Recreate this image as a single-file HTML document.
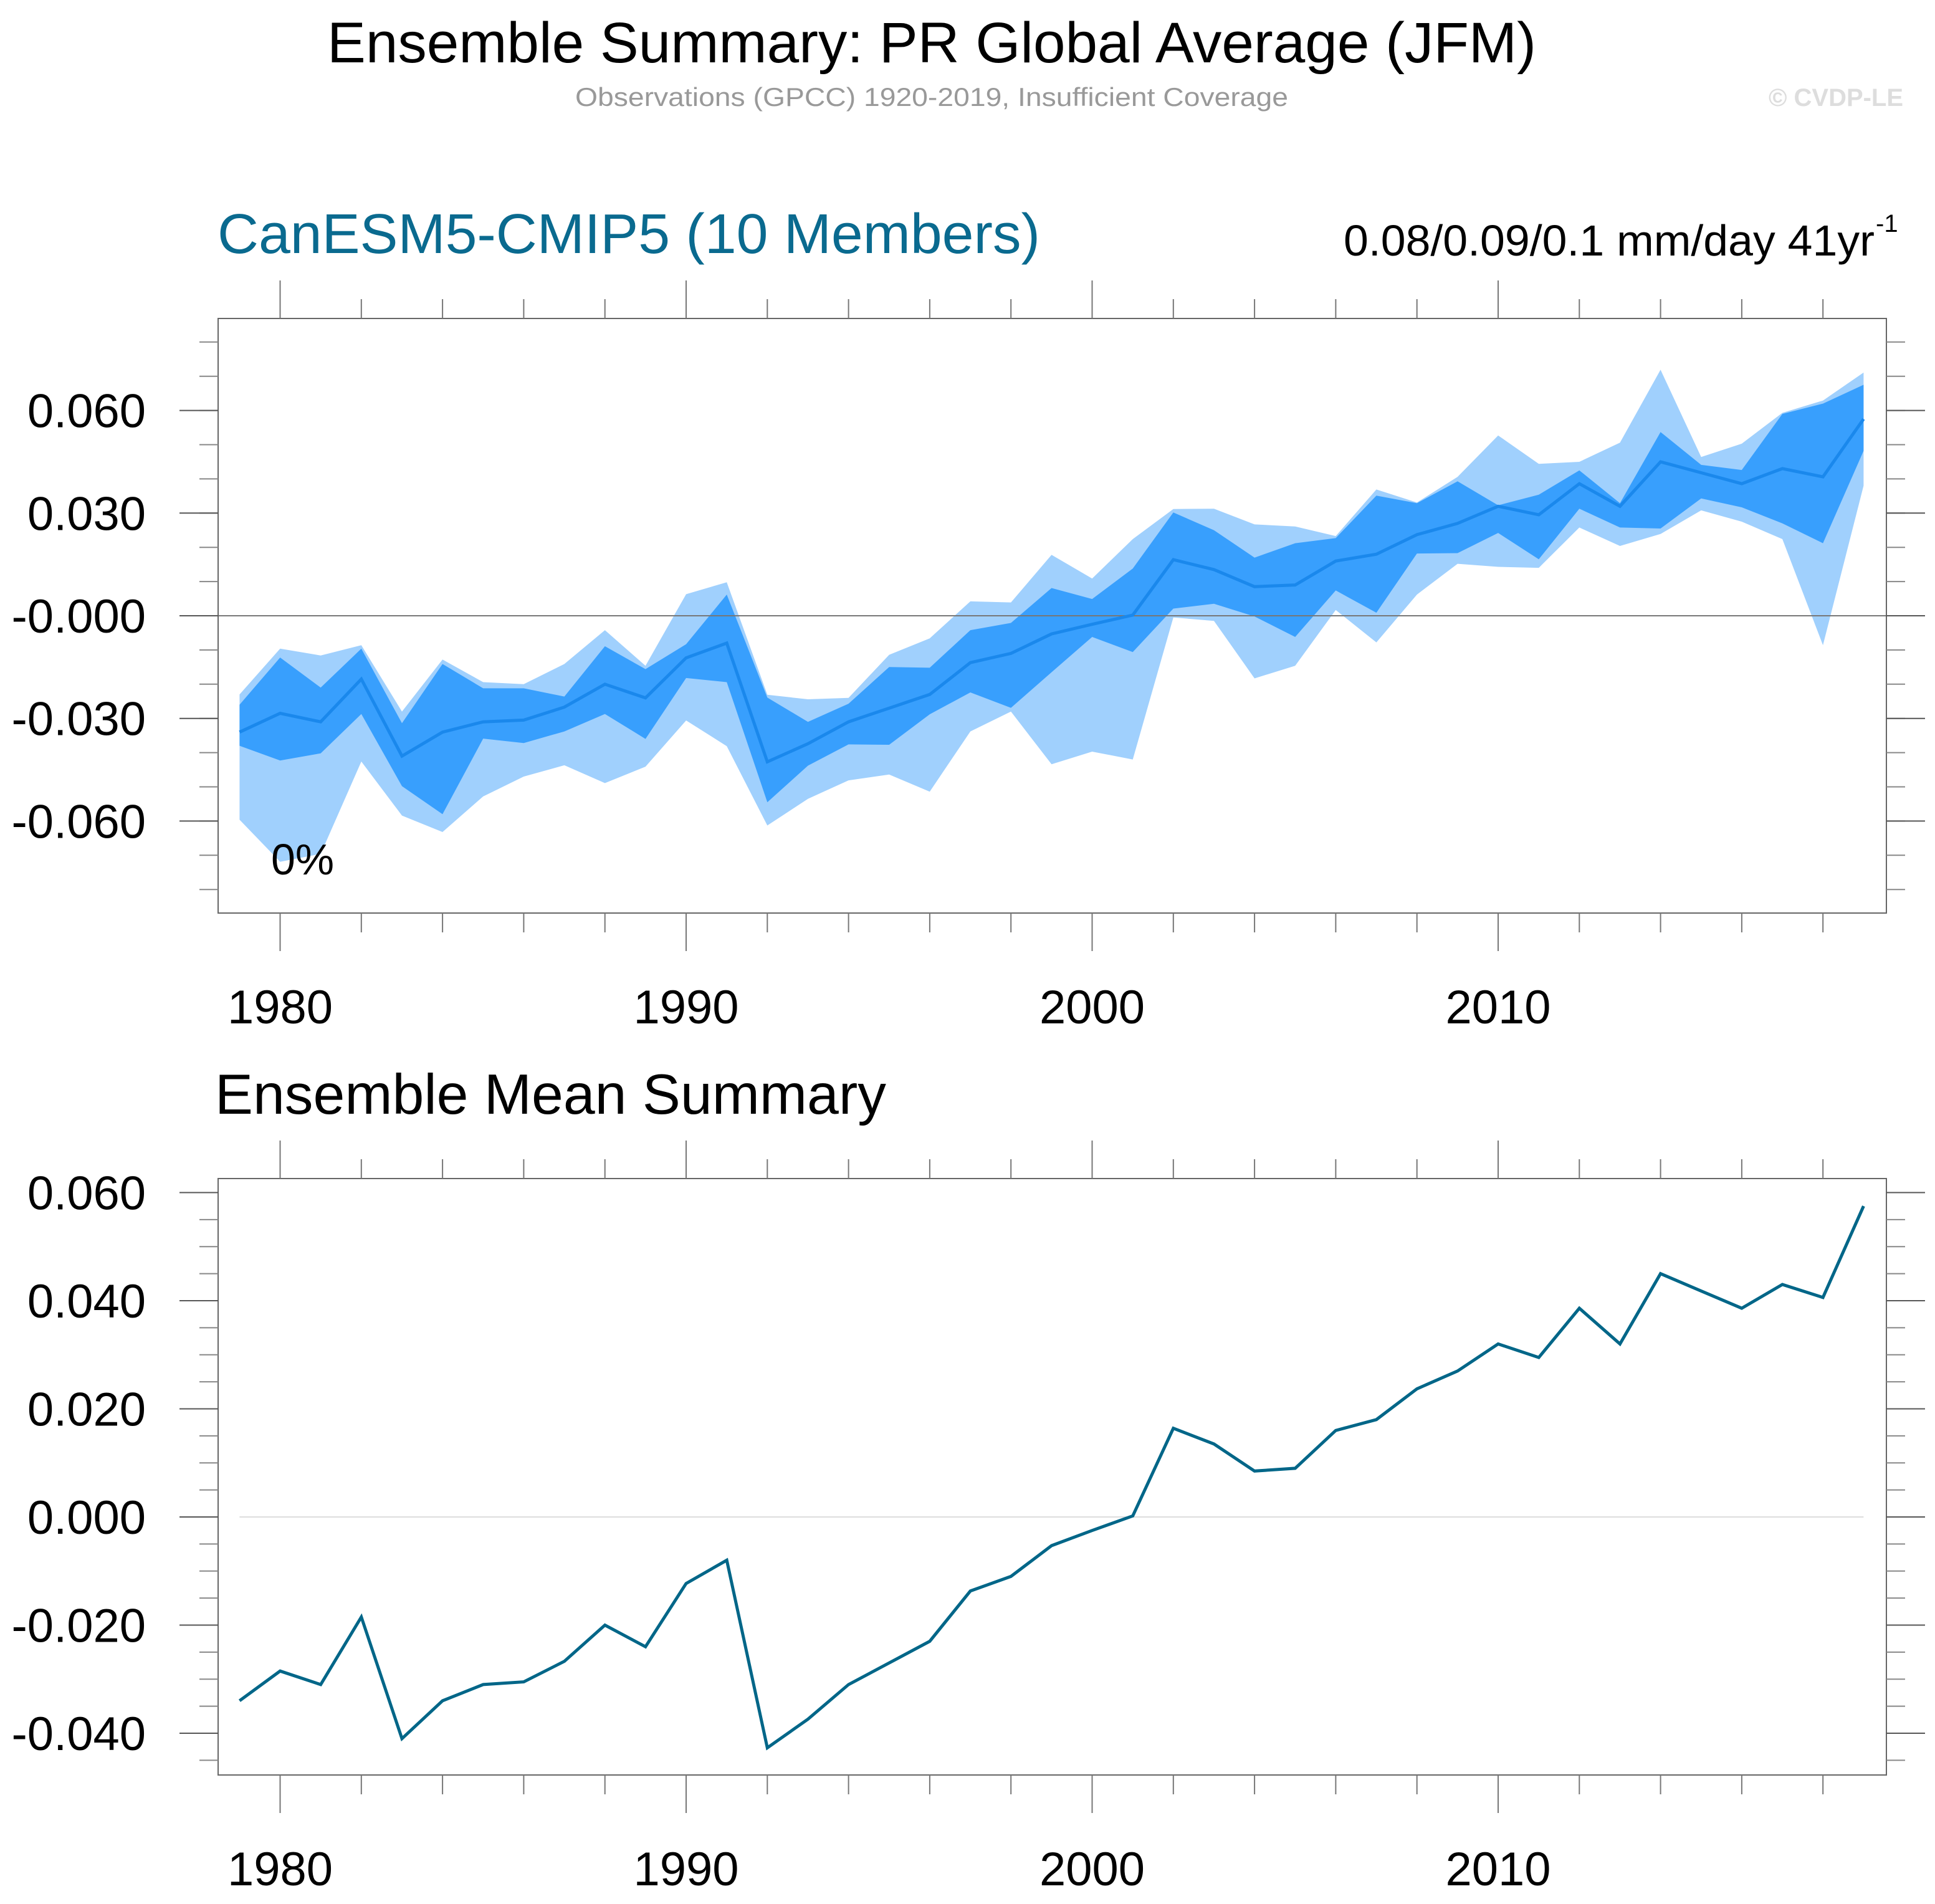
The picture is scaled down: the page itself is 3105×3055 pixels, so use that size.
<!DOCTYPE html>
<html><head><meta charset="utf-8"><style>
html,body{margin:0;padding:0;background:#fff;}
svg{display:block;font-family:"Liberation Sans",Arial,sans-serif;}
</style></head><body>
<svg id="chart" width="3105" height="3055" viewBox="0 0 3105 3055" xmlns="http://www.w3.org/2000/svg">
<text x="525" y="100" font-size="92" textLength="1940" lengthAdjust="spacingAndGlyphs" fill="#000">Ensemble Summary: PR Global Average (JFM)</text>
<text x="923" y="170" font-size="42" textLength="1144" lengthAdjust="spacingAndGlyphs" fill="#999">Observations (GPCC) 1920-2019, Insufficient Coverage</text>
<text x="2838" y="170" font-size="40" font-weight="bold" textLength="216" lengthAdjust="spacingAndGlyphs" fill="#ddd">© CVDP-LE</text>
<text x="349" y="406" font-size="90" textLength="1320" lengthAdjust="spacingAndGlyphs" fill="#0a6a8f">CanESM5-CMIP5 (10 Members)</text>
<text x="2156" y="410" font-size="70" textLength="852" lengthAdjust="spacingAndGlyphs" fill="#000">0.08/0.09/0.1 mm/day 41yr</text>
<text x="3010" y="372" font-size="40" fill="#000">-1</text>
<text x="345" y="1787" font-size="91" textLength="1077" lengthAdjust="spacingAndGlyphs" fill="#000">Ensemble Mean Summary</text>
<g id="topPanel"></g>
<g id="botPanel"></g>
</svg>
<script>
const years = [];
for (let y = 1979; y <= 2019; y++) years.push(y);
const meanVals = [-0.034,-0.0285,-0.031,-0.0185,-0.041,-0.034,-0.031,-0.0305,-0.0267,-0.020,-0.024,-0.0123,-0.008,-0.0427,-0.0374,-0.031,-0.027,-0.023,-0.0137,-0.011,-0.0053,-0.0025,0.0002,0.0164,0.0135,0.0085,0.009,0.016,0.018,0.0237,0.027,0.032,0.0295,0.0386,0.032,0.045,0.0418,0.0386,0.043,0.0406,0.0575];
const lightUpper = [-0.023,-0.0096,-0.0116,-0.0086,-0.028,-0.0128,-0.0194,-0.020,-0.0141,-0.0042,-0.0146,0.0063,0.0098,-0.0231,-0.0244,-0.024,-0.0114,-0.0066,0.0042,0.0039,0.0178,0.0109,0.0224,0.0312,0.0313,0.0267,0.0261,0.0233,0.0369,0.0331,0.0406,0.0527,0.0444,0.045,0.0506,0.0719,0.0464,0.0503,0.0593,0.0629,0.0711];
const darkUpper = [-0.026,-0.0122,-0.021,-0.0096,-0.0314,-0.0141,-0.0212,-0.0212,-0.0236,-0.0089,-0.0156,-0.0083,0.0062,-0.0239,-0.031,-0.0257,-0.015,-0.0152,-0.0042,-0.0021,0.0081,0.0049,0.0138,0.0302,0.025,0.017,0.0212,0.0227,0.0351,0.0329,0.0393,0.0323,0.0354,0.0425,0.0329,0.0537,0.0441,0.0426,0.059,0.062,0.0675];
const darkLower = [-0.038,-0.0423,-0.0402,-0.0287,-0.0498,-0.058,-0.0359,-0.0372,-0.0338,-0.0287,-0.036,-0.0182,-0.0194,-0.0545,-0.0438,-0.0376,-0.0377,-0.0288,-0.0224,-0.0269,-0.0165,-0.0062,-0.0106,0.0021,0.0035,-0.0002,-0.0062,0.0074,0.0009,0.0182,0.0183,0.0242,0.0165,0.0313,0.0258,0.0255,0.0343,0.0317,0.027,0.0212,0.0482];
const lightLower = [-0.0596,-0.0719,-0.0696,-0.0426,-0.0584,-0.0632,-0.0528,-0.047,-0.0437,-0.0489,-0.0441,-0.0306,-0.0381,-0.0613,-0.0535,-0.0481,-0.0464,-0.0514,-0.0338,-0.028,-0.0434,-0.0397,-0.042,-0.0005,-0.0015,-0.0183,-0.0146,0.0017,-0.0078,0.0062,0.0152,0.0143,0.014,0.0258,0.0204,0.0239,0.0308,0.0275,0.0224,-0.0086,0.038];
const xTickLabels = ["1980","1990","2000","2010"];
const topYTickLabels = ["-0.060","-0.030","-0.000","0.030","0.060"];
const botYTickLabels = ["-0.040","-0.020","0.000","0.020","0.040","0.060"];

const NS = "http://www.w3.org/2000/svg";
function mk(parent, tag, attrs){ const e=document.createElementNS(NS,tag); for(const k in attrs) e.setAttribute(k,attrs[k]); parent.appendChild(e); return e; }
const L = 350, R = 3027;
function xs(y){ return 449.5 + (y-1980)*65.15; }
const yTop = v => 988 - v*5490;
const yBot = v => 2434 - v*8675;

function axes(g, T, B, ys, labels, minorStep, minorMin, minorMax){
  const f = mk(g,'rect',{x:L,y:T,width:R-L,height:B-T,fill:'none',stroke:'#666','stroke-width':2});
  
  
  for(let y=1980;y<=2018;y+=2){
    const major = (y%10===0);
    const len = major?61:31;
    const t1 = mk(g,'line',{x1:xs(y),x2:xs(y),y1:T,y2:T-len,stroke:'#777','stroke-width':2});
    
    
    const t2 = mk(g,'line',{x1:xs(y),x2:xs(y),y1:B,y2:B+len,stroke:'#777','stroke-width':2});
    
    
  }
  xTickLabels.forEach(s=>{
    const t = mk(g,'text',{x:xs(+s),y:B+177,'font-size':76,'text-anchor':'middle',fill:'#000'});
    t.textContent = s;
    
    
  });
  for(let v=minorMin; v<=minorMax+1e-9; v+=minorStep){
    const yy = ys(v);
    const a = mk(g,'line',{x1:L-30,x2:L,y1:yy,y2:yy,stroke:'#888','stroke-width':2});
    
    
    const b = mk(g,'line',{x1:R,x2:R+30,y1:yy,y2:yy,stroke:'#888','stroke-width':2});
    
    
  }
  labels.forEach(s=>{
    const yy = ys(parseFloat(s));
    const a = mk(g,'line',{x1:L-62,x2:L,y1:yy,y2:yy,stroke:'#555','stroke-width':2});
    
    
    const b = mk(g,'line',{x1:R,x2:R+62,y1:yy,y2:yy,stroke:'#555','stroke-width':2});
    
    
    const t = mk(g,'text',{x:234,y:yy+27,'font-size':76,'text-anchor':'end',fill:'#000'});
    t.textContent = s;
    
    
  });
}

function band(g, up, lo, ys, color, name){
  let d = 'M';
  years.forEach((y,i)=>{ d += (i?' L':'') + xs(y).toFixed(1)+','+ys(up[i]).toFixed(1); });
  for(let i=years.length-1;i>=0;i--) d += ' L'+xs(years[i]).toFixed(1)+','+ys(lo[i]).toFixed(1);
  d += ' Z';
  const p = mk(g,'path',{d:d,fill:color,stroke:'none'});
  
  
}
function line(g, vals, ys, color, w, name){
  const pts = years.map((y,i)=>xs(y).toFixed(1)+','+ys(vals[i]).toFixed(1)).join(' ');
  const p = mk(g,'polyline',{points:pts,fill:'none',stroke:color,'stroke-width':w,'stroke-linejoin':'miter'});
  
  
}

const topG = document.getElementById('topPanel');
band(topG, lightUpper, lightLower, yTop, '#a0d0fd', 'range-band-light');
band(topG, darkUpper, darkLower, yTop, '#389ffd', 'range-band-dark');
const z = mk(topG,'line',{x1:L-62,x2:R+62,y1:yTop(0),y2:yTop(0),stroke:'#777','stroke-width':2});


line(topG, meanVals, yTop, '#1a88ec', 5, 'ensemble-mean-line-top');
axes(topG, 511, 1465, yTop, topYTickLabels, 0.01, -0.08, 0.08);
const pct = mk(topG,'text',{x:435,y:1403,'font-size':70,fill:'#000'});
pct.textContent = '0%';



const botG = document.getElementById('botPanel');
const z2 = mk(botG,'line',{x1:xs(1979),x2:xs(2019),y1:yBot(0),y2:yBot(0),stroke:'#ddd','stroke-width':2});


line(botG, meanVals, yBot, '#006688', 5, 'ensemble-mean-line');
axes(botG, 1891, 2848, yBot, botYTickLabels, 0.005, -0.045, 0.06);
</script>
</body></html>
